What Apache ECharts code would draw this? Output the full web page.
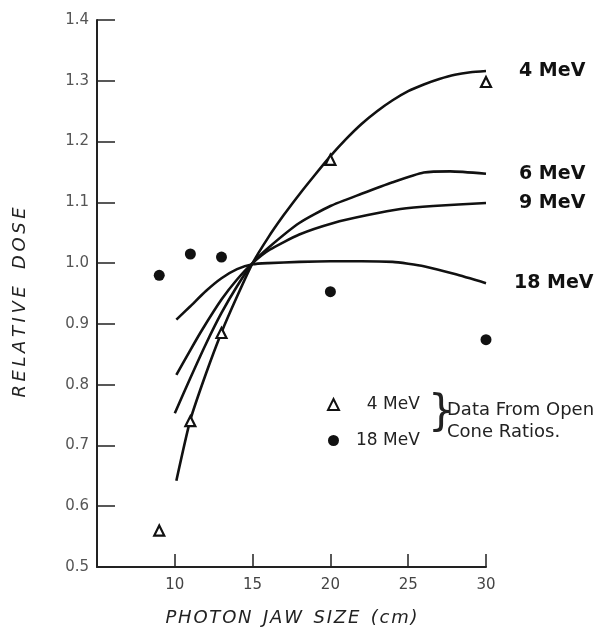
<!DOCTYPE html>
<html>
<head>
<meta charset="utf-8">
<script src="https://cdn.jsdelivr.net/npm/echarts@6/dist/echarts.min.js"></script>
<style>
html,body{margin:0;padding:0;background:#fff;}
#chart{width:602px;height:633px;}
</style>
</head>
<body>
<div id="chart"></div>
<script>
// Curves (relative dose vs photon jaw size)
const x4 = [10.1, 11, 12, 13, 14, 15, 16, 17, 18, 19, 20, 21, 22, 23, 24, 25, 26, 27, 28, 29, 30];
const y4 = [0.642, 0.742, 0.818, 0.886, 0.945, 1.0, 1.042, 1.079, 1.113, 1.145, 1.176, 1.204, 1.229, 1.25, 1.268, 1.283, 1.294, 1.303, 1.31, 1.314, 1.316];

const x6 = [10.0, 11, 12, 13, 14, 15, 16, 18, 20, 22, 24, 26, 27.7, 30];
const y6 = [0.753, 0.811, 0.867, 0.918, 0.962, 1.0, 1.025, 1.066, 1.094, 1.114, 1.133, 1.149, 1.151, 1.147];

const x9 = [10.1, 11, 11.75, 13, 14, 15, 16.1, 18, 20.2, 22.4, 24.5, 26.6, 30];
const y9 = [0.816, 0.857, 0.89, 0.94, 0.973, 1.0, 1.022, 1.047, 1.066, 1.079, 1.089, 1.094, 1.099];

const x18 = [10.1, 11, 12, 13, 14, 15, 16, 18, 20, 22, 24, 25, 26, 28, 30];
const y18 = [0.907, 0.929, 0.954, 0.975, 0.99, 0.998, 1.0, 1.002, 1.003, 1.003, 1.002, 0.999, 0.995, 0.982, 0.967];

// Measured data from open cone ratios
const tri4X = [9, 11, 13, 20, 30];
const tri4Y = [0.56, 0.74, 0.885, 1.17, 1.298];
const dot18X = [9, 11, 13, 20, 30];
const dot18Y = [0.98, 1.015, 1.01, 0.953, 0.874];

const curveNames = ['4 MeV', '6 MeV', '9 MeV', '18 MeV'];
const legendNames = ['4 MeV', '18 MeV'];
const yTickLabels = ['0.5','0.6','0.7','0.8','0.9','1.0','1.1','1.2','1.3','1.4'];

function zip(xs, ys) { return xs.map((x, i) => [x, ys[i]]); }

const lineStyleBase = { color: '#111', width: 2.6 };
function curve(name, xs, ys, dist) {
  return {
    name: name + ' curve',
    type: 'line',
    data: zip(xs, ys),
    smooth: 0.2,
    showSymbol: false,
    symbol: 'none',
    lineStyle: lineStyleBase,
    itemStyle: { color: '#111' },
    silent: true,
    endLabel: {
      show: true,
      formatter: name,
      distance: dist,
      fontFamily: 'DejaVu Sans, sans-serif',
      fontSize: 19,
      fontWeight: 'bold',
      color: '#111'
    }
  };
}

const chart = echarts.init(document.getElementById('chart'), null, { renderer: 'canvas' });
const option = {
  animation: false,
  backgroundColor: '#fff',
  grid: { left: 97, right: 116, top: 20, bottom: 66, containLabel: false },
  xAxis: {
    type: 'value',
    min: 5, max: 30, interval: 5,
    name: 'P\u200AH\u200AO\u200AT\u200AO\u200AN  J\u200AA\u200AW  S\u200AI\u200AZ\u200AE  (\u200Ac\u200Am\u200A)',
    nameLocation: 'middle',
    nameGap: 42,
    nameTextStyle: { fontFamily: 'DejaVu Sans, sans-serif', fontStyle: 'italic', fontSize: 18, color: '#222' },
    axisLine: { show: true, lineStyle: { color: '#222', width: 2 } },
    axisTick: { show: true, inside: true, length: 13, lineStyle: { color: '#222', width: 1.5 } },
    axisLabel: {
      margin: 11, fontSize: 15, color: '#444',
      fontFamily: 'DejaVu Sans, sans-serif',
      formatter: v => (v === 5 ? '' : String(v))
    },
    splitLine: { show: false }
  },
  yAxis: {
    type: 'value',
    min: 0.5, max: 1.4, interval: 0.1,
    name: 'R\u2009E\u2009L\u2009A\u2009T\u2009I\u2009V\u2009E   D\u2009O\u2009S\u2009E',
    nameLocation: 'middle',
    nameGap: 68,
    nameRotate: 90,
    nameTextStyle: { fontFamily: 'DejaVu Sans, sans-serif', fontStyle: 'italic', fontSize: 18, color: '#222', padding: [0, 18, 0, 0] },
    axisLine: { show: true, lineStyle: { color: '#222', width: 2 } },
    axisTick: { show: true, inside: true, length: 18, lineStyle: { color: '#222', width: 1.5 } },
    axisLabel: {
      margin: 8, fontSize: 15, color: '#555',
      fontFamily: 'DejaVu Sans, sans-serif',
      formatter: v => yTickLabels[Math.round((v - 0.5) * 10)]
    },
    splitLine: { show: false }
  },
  legend: {
    orient: 'vertical',
    left: 322, top: 391,
    itemGap: 19,
    itemWidth: 11, itemHeight: 11,
    selectedMode: false,
    data: legendNames,
    formatter: n => (n.length < 6 ? '  ' + n : n),
    textStyle: { fontSize: 17, color: '#222', fontFamily: 'DejaVu Sans, sans-serif', padding: [0, 0, 0, 12] }
  },
  series: [
    curve(curveNames[0], x4, y4, 33),
    curve(curveNames[1], x6, y6, 33),
    curve(curveNames[2], x9, y9, 33),
    curve(curveNames[3], x18, y18, 28),
    {
      name: legendNames[0],
      type: 'scatter',
      data: zip(tri4X, tri4Y),
      symbol: 'triangle',
      symbolSize: 10,
      itemStyle: { color: '#fff', borderColor: '#111', borderWidth: 2.2, opacity: 1 },
      z: 5
    },
    {
      name: legendNames[1],
      type: 'scatter',
      data: zip(dot18X, dot18Y),
      symbol: 'circle',
      symbolSize: 11,
      itemStyle: { color: '#111', opacity: 1 },
      z: 5
    }
  ],
  graphic: [
    { type: 'text', left: 428, top: 393, style: { text: '}', fontSize: 42, fontFamily: 'DejaVu Sans, sans-serif', fill: '#222' } },
    { type: 'text', left: 447, top: 401, style: { text: 'Data From Open', fontSize: 18, fontFamily: 'DejaVu Sans, sans-serif', fill: '#222' } },
    { type: 'text', left: 447, top: 423, style: { text: 'Cone Ratios.', fontSize: 18, fontFamily: 'DejaVu Sans, sans-serif', fill: '#222' } }
  ]
};
chart.setOption(option);
</script>
</body>
</html>
